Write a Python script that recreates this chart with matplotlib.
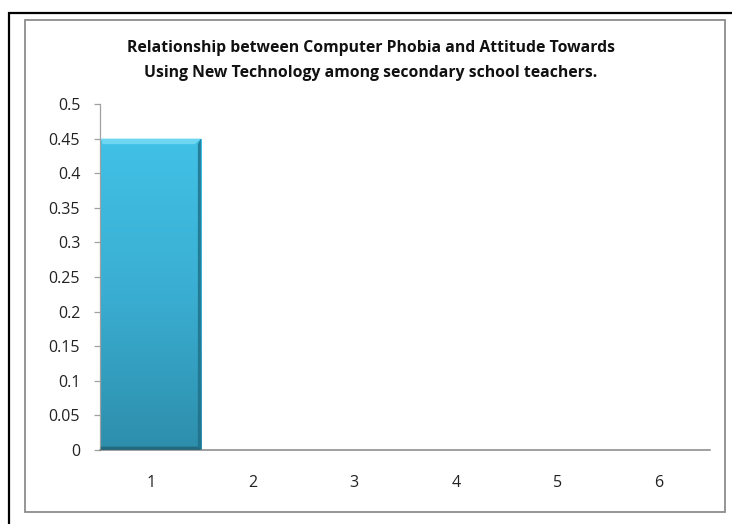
import numpy as np
import matplotlib
matplotlib.use("Agg")
import matplotlib.pyplot as plt
from matplotlib.patches import Rectangle, Polygon
from matplotlib.colors import LinearSegmentedColormap

categories = [1, 2, 3, 4, 5, 6]
values = [0.45, 0, 0, 0, 0, 0]
yticks = [0, 0.05, 0.1, 0.15, 0.2, 0.25, 0.3, 0.35, 0.4, 0.45, 0.5]
ytick_labels = ["0", "0.05", "0.1", "0.15", "0.2", "0.25", "0.3", "0.35", "0.4", "0.45", "0.5"]
title = ("Relationship between Computer Phobia and Attitude Towards\n"
         "Using New Technology among secondary school teachers.")

plt.rcParams["font.family"] = ["Open Sans", "DejaVu Sans"]

W, H = 732, 524
fig = plt.figure(figsize=(W / 100, H / 100), dpi=100)

# outer black frame (runs off the bottom/right of the canvas)
fig.add_artist(Rectangle((9 / W, -0.1), 1.0, 1 - 13 / H + 0.1, transform=fig.transFigure,
                         fill=False, edgecolor="black", linewidth=1.6))
# inner grey chart-area border
fig.add_artist(Rectangle((25 / W, 1 - 512 / H), (725 - 25) / W, (512 - 20) / H,
                         transform=fig.transFigure, fill=False, edgecolor="#8c8c8c",
                         linewidth=1.3))

ax = fig.add_axes([100 / W, 1 - 450 / H, (710 - 100) / W, (450 - 104) / H])
x = np.arange(len(categories))
bw = 0.985
bars = ax.bar(x, values, width=bw, color="none", edgecolor="none")

cmap = LinearSegmentedColormap.from_list("bar", ["#2d8eab", "#3aaed2", "#41c1e6"])
grad = np.linspace(0, 1, 256).reshape(-1, 1)
for b, v in zip(bars, values):
    if v <= 0:
        continue
    x0, w = b.get_x(), b.get_width()
    im = ax.imshow(grad, cmap=cmap, aspect="auto", origin="lower",
                   extent=[x0, x0 + w, 0, v], zorder=2)
    im.set_clip_path(b)
    # bevel strips: light top, dark right and bottom
    dx, dy = 0.06, 0.008
    ax.add_patch(Polygon([[x0, v], [x0 + w, v], [x0 + w - dx, v - dy], [x0 + dx * 0.3, v - dy]],
                         closed=True, facecolor="#6fd6f2", edgecolor="none", zorder=3))
    ax.add_patch(Polygon([[x0 + w, v], [x0 + w, 0], [x0 + w - dx * 0.5, dy * 0.6],
                         [x0 + w - dx * 0.5, v - dy]],
                         closed=True, facecolor="#1f6e86", edgecolor="none", alpha=0.8, zorder=3))
    ax.add_patch(Polygon([[x0, 0], [x0 + w, 0], [x0 + w - dx * 0.5, dy * 0.6], [x0, dy * 0.6]],
                         closed=True, facecolor="#1f6274", edgecolor="none", alpha=0.8, zorder=3))

ax.set_xlim(-0.5, len(categories) - 0.5)
ax.set_ylim(0, 0.5)
ax.set_xticks(x)
ax.set_xticklabels([str(c) for c in categories])
ax.set_yticks(yticks)
ax.set_yticklabels(ytick_labels)

for side in ["top", "right"]:
    ax.spines[side].set_visible(False)
ax.spines["left"].set_color("#a0a0a0")
ax.spines["bottom"].set_color("#868686")
ax.spines["left"].set_linewidth(0.9)
ax.spines["bottom"].set_linewidth(1.1)
ax.tick_params(axis="x", length=0, pad=18, labelsize=11.5, labelcolor="#222222")
ax.tick_params(axis="y", length=4.3, width=0.9, color="#a0a0a0", pad=10,
               labelsize=11.5, labelcolor="#222222")

fig.text(371 / W, 1 - 60.5 / H, title, ha="center", va="center", fontsize=11.3,
         fontweight="bold", color="#111111", linespacing=1.75)

fig.savefig("out.png", dpi=100)
